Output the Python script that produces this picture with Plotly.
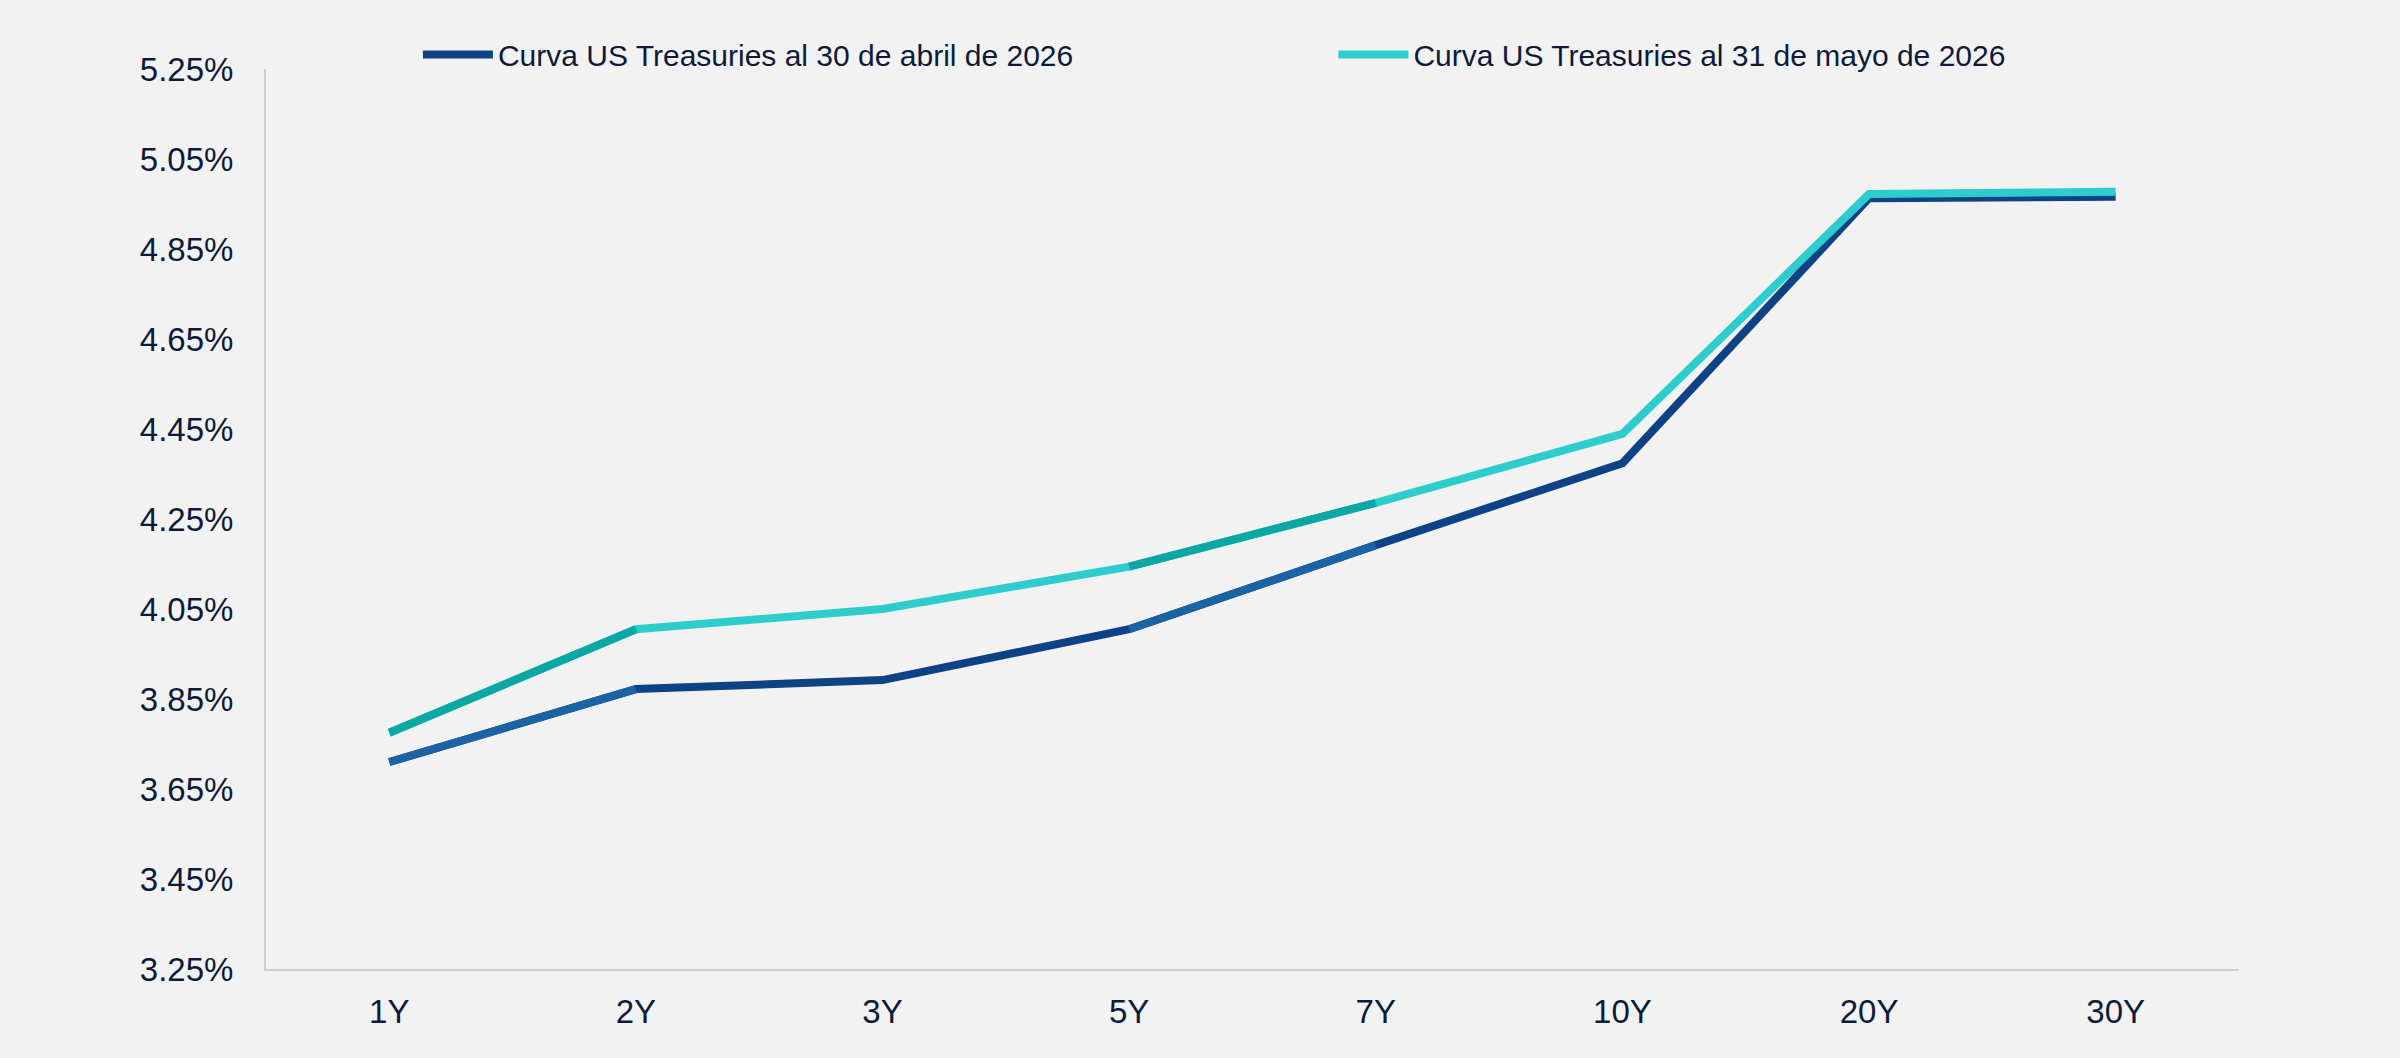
import plotly.graph_objects as go

tenors = ["1Y", "2Y", "3Y", "5Y", "7Y", "10Y", "20Y", "30Y"]
abril = [3.71, 3.872, 3.892, 4.005, 4.192, 4.374, 4.963, 4.966]
mayo = [3.775, 4.005, 4.05, 4.144, 4.286, 4.439, 4.972, 4.977]
name_abril = "Curva US Treasuries al 30 de abril de 2026"
name_mayo = "Curva US Treasuries al 31 de mayo de 2026"
y_ticks = [3.25, 3.45, 3.65, 3.85, 4.05, 4.25, 4.45, 4.65, 4.85, 5.05, 5.25]

NAVY = "#0d4384"
NAVY_HI = "#1c63a6"
TEAL = "#2ecdcd"
TEAL_HI = "#0aa7a4"
# per-segment colours (segment i joins point i and i+1)
abril_seg_colors = [NAVY_HI, NAVY, NAVY, NAVY_HI, NAVY, NAVY, NAVY]
mayo_seg_colors = [TEAL_HI, TEAL, TEAL, TEAL_HI, TEAL, TEAL, TEAL]
TEXT = "#0c1a3c"
LW = 8

fig = go.Figure()


def add_series(vals, seg_colors, base, name, legend):
    fig.add_trace(go.Scatter(x=tenors, y=vals, mode="lines", name=name,
                             line=dict(color=base, width=LW), showlegend=True,
                             legend=legend, hoverinfo="skip"))
    for i, c in enumerate(seg_colors):
        if c != base:
            fig.add_trace(go.Scatter(x=tenors[i:i + 2], y=vals[i:i + 2], mode="lines",
                                     line=dict(color=c, width=LW), showlegend=False,
                                     hoverinfo="skip"))


add_series(abril, abril_seg_colors, NAVY, name_abril, "legend")
add_series(mayo, mayo_seg_colors, TEAL, name_mayo, "legend2")

leg_common = dict(orientation="h", y=1.016, xanchor="left", yanchor="middle",
                  font=dict(size=30, color=TEXT), bgcolor="rgba(0,0,0,0)",
                  itemwidth=70)

fig.update_layout(
    width=2400, height=1058,
    margin=dict(l=266, r=161, t=69, b=89, autoexpand=False),
    paper_bgcolor="#f2f2f2", plot_bgcolor="#f2f2f2",
    font=dict(family="Liberation Sans, Arial, sans-serif", color=TEXT, size=33),
    showlegend=True,
    legend=dict(x=0.077, **leg_common),
    legend2=dict(x=0.541, **leg_common),
    xaxis=dict(type="category", range=[-0.5, len(tenors) - 0.5], showgrid=False,
               zeroline=False, showline=True,
               linecolor="#d0d0d0", linewidth=2, ticks="", ticklabelstandoff=12,
               tickfont=dict(size=33, color=TEXT), fixedrange=True),
    yaxis=dict(range=[3.25, 5.25], tickvals=y_ticks,
               ticktext=[f"{v:.2f}%" for v in y_ticks], showgrid=False, zeroline=False,
               showline=True, linecolor="#d0d0d0", linewidth=2, ticks="",
               ticklabelstandoff=24, tickfont=dict(size=33, color=TEXT), fixedrange=True),
)

fig.write_html("out.html")
